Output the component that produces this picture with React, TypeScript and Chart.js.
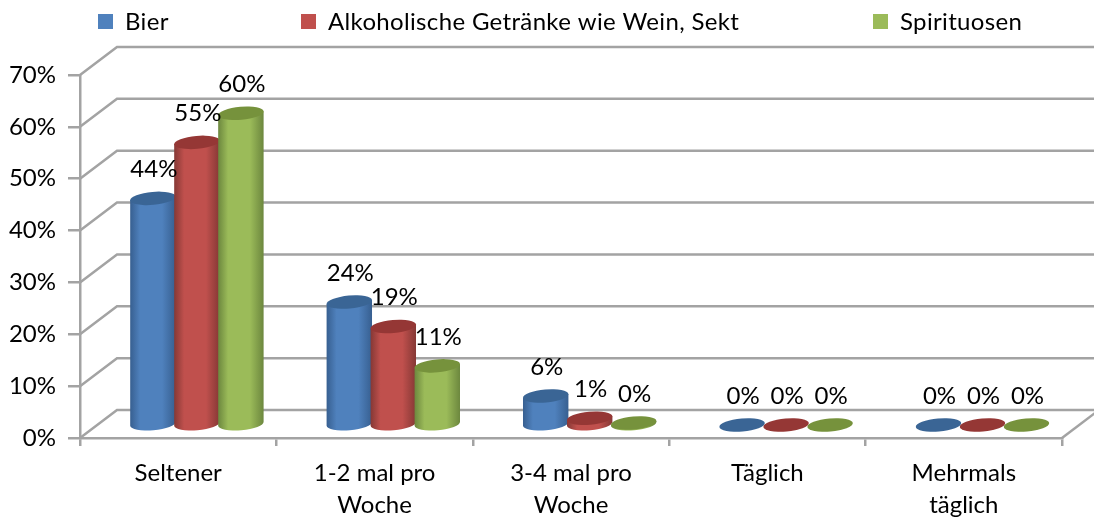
import React, { useEffect, useRef } from "react";
import { Chart, registerables } from "chart.js";

Chart.register(...registerables);

const categories = [["Seltener"], ["1-2 mal pro", "Woche"], ["3-4 mal pro", "Woche"], ["Täglich"], ["Mehrmals", "täglich"]];
const bier = [43.7, 23.7, 5.6, 0, 0];
const wein = [54.5, 19, 1.3, 0, 0];
const spirituosen = [60.1, 11.4, 0.4, 0, 0];
const seriesNames = ["Bier", "Alkoholische Getränke wie Wein, Sekt", "Spirituosen"];
const seriesColors = ["#4F81BD", "#C0504D", "#9BBB59"];
const seriesDark = ["#375F90", "#853835", "#6C873E"];
const seriesTop = ["#3A6595", "#953735", "#76923C"];

const FONT = "Lato, sans-serif";
const FONT_SIZE = 24;
const GRID = "#A3A3A3";
const DEPTH_X = 37;
const DEPTH_Y = 28;
const BAR_X = 18.7;
const BAR_Y = 13;
const RY = 6.5;
const TILT = (-5 * Math.PI) / 180;

const cylinders = {
  id: "cylinders",
  beforeDatasetsDraw(chart: any) {
    const { ctx, chartArea, scales } = chart;
    const yScale = scales.y;
    ctx.save();
    // back wall and side wall gridlines
    ctx.strokeStyle = GRID;
    ctx.lineWidth = 2.5;
    yScale.ticks.forEach((t: any) => {
      const py = yScale.getPixelForValue(t.value);
      ctx.beginPath();
      ctx.moveTo(chartArea.left, py);
      ctx.lineTo(chartArea.left + DEPTH_X, py - DEPTH_Y);
      ctx.lineTo(chart.width, py - DEPTH_Y);
      ctx.stroke();
    });
    ctx.beginPath();
    ctx.moveTo(chartArea.right, chartArea.bottom);
    ctx.lineTo(chartArea.right + DEPTH_X, chartArea.bottom - DEPTH_Y);
    ctx.stroke();

    chart.data.datasets.forEach((ds: any, di: number) => {
      chart.getDatasetMeta(di).data.forEach((el: any) => {
        const cx = el.x + BAR_X;
        const rx = el.width / 2 + 0.8;
        const top = el.y - BAR_Y;
        const base = el.base - BAR_Y;
        if (base - top > 0.5) {
          const g = ctx.createLinearGradient(cx - rx, 0, cx + rx, 0);
          g.addColorStop(0, seriesDark[di]);
          g.addColorStop(0.22, seriesColors[di]);
          g.addColorStop(0.7, seriesColors[di]);
          g.addColorStop(1, seriesDark[di]);
          ctx.fillStyle = g;
          ctx.beginPath();
          ctx.ellipse(cx, base, rx, RY, TILT, Math.PI, 0, true);
          ctx.lineTo(cx + rx * Math.cos(TILT), top + rx * Math.sin(TILT));
          ctx.lineTo(cx - rx * Math.cos(TILT), top - rx * Math.sin(TILT));
          ctx.closePath();
          ctx.fill();
        }
        ctx.fillStyle = seriesTop[di];
        ctx.beginPath();
        ctx.ellipse(cx, top, rx, RY, TILT, 0, Math.PI * 2);
        ctx.fill();
      });
    });

    // value labels
    ctx.fillStyle = "#000";
    ctx.font = `${FONT_SIZE}px ${FONT}`;
    ctx.textAlign = "center";
    ctx.textBaseline = "middle";
    chart.data.datasets.forEach((ds: any, di: number) => {
      chart.getDatasetMeta(di).data.forEach((el: any, i: number) => {
        ctx.fillText(`${Math.round(ds.data[i])}%`, el.x + BAR_X + 1, el.y - BAR_Y - 29);
      });
    });

    // legend
    ctx.textAlign = "left";
    (ctx as any).letterSpacing = "0.34px";
    const markerX = [98, 301, 873];
    chart.data.datasets.forEach((ds: any, di: number) => {
      ctx.fillStyle = seriesColors[di];
      ctx.fillRect(markerX[di], 14, 15, 15);
      ctx.fillStyle = "#000";
      ctx.fillText(ds.label, markerX[di] + 27, 22);
    });
    (ctx as any).letterSpacing = "0px";
    ctx.restore();
    return false;
  },
};

export default function App() {
  const ref = useRef<HTMLCanvasElement>(null);
  useEffect(() => {
    const chart = new Chart(ref.current!, {
      type: "bar",
      plugins: [cylinders],
      data: {
        labels: categories,
        datasets: [bier, wein, spirituosen].map((data, i) => ({
          label: seriesNames[i],
          data,
          backgroundColor: seriesColors[i],
          categoryPercentage: 0.672,
          barPercentage: 1,
        })),
      },
      options: {
        responsive: false,
        animation: false,
        layout: { padding: { left: 0, top: 75, right: 32, bottom: 0 } },
        plugins: { legend: { display: false }, tooltip: { enabled: false }, title: { display: false } },
        scales: {
          x: {
            afterFit: (s: any) => { s.height = 80; },
            grid: { drawOnChartArea: false, color: GRID, lineWidth: 2.5, tickLength: 8 },
            border: { color: GRID, width: 2.5 },
            ticks: { color: "#000", font: { family: FONT, size: FONT_SIZE, lineHeight: 1.34 }, padding: 11, autoSkip: false, maxRotation: 0 },
          },
          y: {
            min: 0,
            max: 70,
            afterFit: (s: any) => { s.width = 80; },
            grid: { drawOnChartArea: false, color: GRID, lineWidth: 2.5, tickLength: 12 },
            border: { color: GRID, width: 2.5 },
            ticks: { stepSize: 10, color: "#000", font: { family: FONT, size: FONT_SIZE }, padding: 12, callback: (v: any) => `${v}%` },
          },
        },
      },
    } as any);
    return () => chart.destroy();
  }, []);
  return (
    <div style={{ position: "absolute", left: 0, top: 0 }}>
      <canvas ref={ref} width={1094} height={518} style={{ display: "block" }} />
    </div>
  );
}
